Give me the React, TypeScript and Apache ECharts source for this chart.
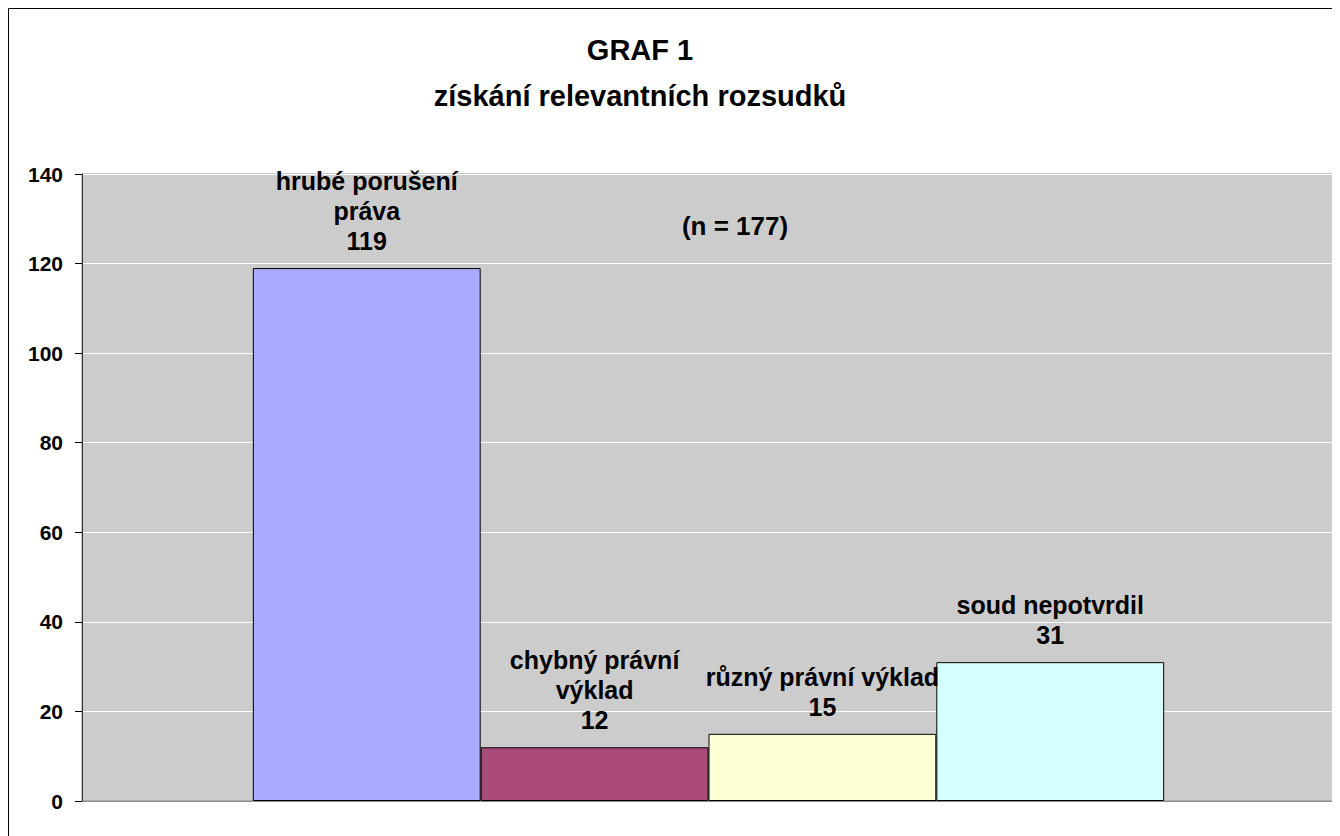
import React, { useEffect, useRef } from "react";
import * as echarts from "echarts";

const categories = ["získání relevantních rozsudků"];
const seriesNames = [
  "hrubé porušení\npráva",
  "chybný právní\nvýklad",
  "různý právní výklad",
  "soud nepotvrdil",
];
const seriesValues = [119, 12, 15, 31];
const seriesColors = ["#AAAAFF", "#A94A78", "#FFFFD5", "#D5FFFF"];
const titleLines = ["GRAF 1", "získání relevantních rozsudků"];
const noteText = "(n = 177)";

const FONT = "'Liberation Sans', Arial, sans-serif";

export default function App() {
  const ref = useRef<HTMLDivElement>(null);
  useEffect(() => {
    if (!ref.current) return;
    const chart = echarts.init(ref.current, undefined, { renderer: "svg" });
    chart.setOption({
      animation: false,
      backgroundColor: "#ffffff",
      textStyle: { fontFamily: FONT },
      grid: {
        left: 74,
        top: 166,
        right: 5,
        bottom: 35,
        show: true,
        backgroundColor: "#CCCCCC",
        borderColor: "#8C8C8C",
        borderWidth: 1,
      },
      xAxis: {
        type: "category",
        data: categories,
        axisLabel: { show: false },
        axisTick: { show: false },
        axisLine: { show: true, lineStyle: { color: "#8C8C8C", width: 1 } },
      },
      yAxis: {
        type: "value",
        min: 0,
        max: 140,
        interval: 20,
        axisLine: { show: true, lineStyle: { color: "#333333", width: 1 } },
        axisTick: { show: true, length: 7, lineStyle: { color: "#000000" } },
        axisLabel: {
          color: "#000000",
          fontSize: 21,
          fontWeight: "bold",
          fontFamily: FONT,
          margin: 19,
        },
        splitLine: { show: true, lineStyle: { color: "#FFFFFF", width: 1 } },
      },
      series: seriesNames.map((name, i) => ({
        type: "bar",
        name,
        data: [seriesValues[i]],
        barGap: "0%",
        barCategoryGap: "27.27%",
        itemStyle: {
          color: seriesColors[i],
          borderColor: "#000000",
          borderWidth: 1,
        },
        label: {
          show: true,
          position: "top",
          distance: 12,
          formatter: "{a}\n{c}",
          color: "#000000",
          fontSize: 25,
          fontWeight: "bold",
          fontFamily: FONT,
          lineHeight: 30,
          align: "center",
        },
      })),
      graphic: [
        {
          type: "polyline",
          shape: { points: [[0.5, 828], [0.5, 0.5], [1332, 0.5]] },
          style: { stroke: "#000000", lineWidth: 1, fill: "none" },
          silent: true,
        },
        {
          type: "text",
          x: 632,
          y: 27,
          style: {
            text: titleLines[0],
            fontSize: 29,
            fontWeight: "bold",
            fontFamily: FONT,
            fill: "#000000",
            textAlign: "center",
            textVerticalAlign: "top",
          },
        },
        {
          type: "text",
          x: 632,
          y: 73,
          style: {
            text: titleLines[1],
            fontSize: 29,
            fontWeight: "bold",
            fontFamily: FONT,
            fill: "#000000",
            textAlign: "center",
            textVerticalAlign: "top",
          },
        },
        {
          type: "text",
          x: 727,
          y: 218,
          style: {
            text: noteText,
            fontSize: 26,
            fontWeight: "bold",
            fontFamily: FONT,
            fill: "#000000",
            textAlign: "center",
            textVerticalAlign: "middle",
          },
        },
      ],
    });
    return () => chart.dispose();
  }, []);
  return <div ref={ref} style={{ width: 1332, height: 828 }} />;
}
